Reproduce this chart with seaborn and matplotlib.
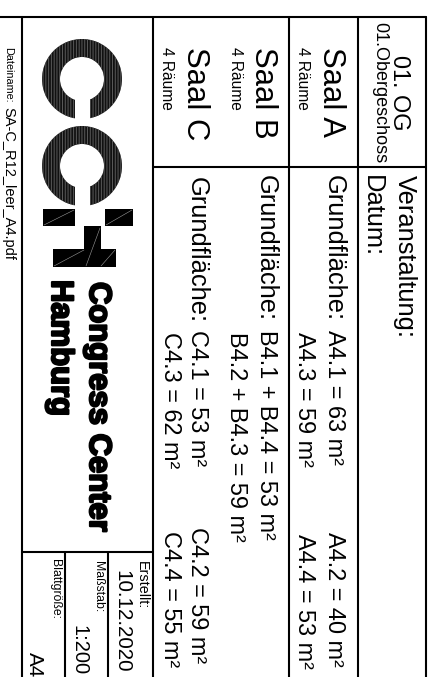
import numpy as np
import matplotlib
matplotlib.use('Agg')
import matplotlib.pyplot as plt
import matplotlib.patches as mpatches
import matplotlib.patheffects as pe
import seaborn as sns

# Data
floor_short = '01. OG'
floor_long = '01.Obergeschoss'
halls = ['Saal A', 'Saal B', 'Saal C']
room_counts = [4, 4, 4]
hall_a_rooms = ['A4.1', 'A4.2', 'A4.3', 'A4.4']
hall_a_areas = [63, 40, 59, 53]
hall_b_groups = ['B4.1 + B4.4', 'B4.2 + B4.3']
hall_b_areas = [53, 59]
hall_c_rooms = ['C4.1', 'C4.2', 'C4.3', 'C4.4']
hall_c_areas = [53, 59, 62, 55]
created = '10.12.2020'
scale = '1:200'
sheet = 'A4'
filename = 'SA-C_R12_leer_A4.pdf'

sns.set_style('white')
plt.rcParams['font.family'] = ['Liberation Sans', 'DejaVu Sans']
plt.rcParams['hatch.linewidth'] = 0.7

fig = plt.figure(figsize=(4.36, 6.77), dpi=100)
ax = fig.add_axes([0, 0, 1, 1])
ax.set_xlim(0, 436)
ax.set_ylim(677, 0)
ax.axis('off')

def rtext(x, y, s, px, ha='left', **kw):
    # text rotated clockwise, reading top to bottom
    ax.text(x, y, s, rotation=-90, rotation_mode='anchor', ha=ha, va='baseline',
            fontsize=px * 0.72, color='black', **kw)

# frame lines
lw = 1.5
ax.plot([0, 426], [17, 17], color='black', lw=lw)
for xv in [426, 358, 289, 153, 22]:
    ax.plot([xv, xv], [17, 677], color='black', lw=lw)
ax.plot([153, 426], [167, 167], color='black', lw=lw)
ax.plot([22, 153], [552, 552], color='black', lw=lw)
for xv in [108, 65]:
    ax.plot([xv, xv], [552, 677], color='black', lw=lw)

# header row
rtext(393, 93, floor_short, 23.5, ha='center')
rtext(375, 93, floor_long, 18, ha='center')
rtext(398, 175, 'Veranstaltung:', 25.5)
rtext(365, 175, 'Datum:', 25.5)

# halls
hall_x = [323, 255, 187]
rooms_x = [298, 231, 162]
for xb, xr, name, n in zip(hall_x, rooms_x, halls, room_counts):
    rtext(xb, 47, name, 31)
    rtext(xr, 47, f'{n} Räume', 15.5)

def area(label, val):
    return f'{label} = {val} m²'

gs = 25.5   # label size
vs = 23.5   # value size
# Saal A
rtext(327, 175, 'Grundfläche:', gs)
rtext(328, 330, area(hall_a_rooms[0], hall_a_areas[0]), vs)
rtext(328, 532, area(hall_a_rooms[1], hall_a_areas[1]), vs)
rtext(298, 332, area(hall_a_rooms[2], hall_a_areas[2]), vs)
rtext(298, 534, area(hall_a_rooms[3], hall_a_areas[3]), vs)

# Saal B
rtext(259, 175, 'Grundfläche:', gs)
rtext(260, 330, area(hall_b_groups[0], hall_b_areas[0]), vs)
rtext(230, 332, area(hall_b_groups[1], hall_b_areas[1]), vs)

# Saal C
rtext(190, 177, 'Grundfläche:', gs)
rtext(191, 330, area(hall_c_rooms[0], hall_c_areas[0]), vs)
rtext(191, 527, area(hall_c_rooms[1], hall_c_areas[1]), vs)
rtext(164, 332, area(hall_c_rooms[2], hall_c_areas[2]), vs)
rtext(164, 531, area(hall_c_rooms[3], hall_c_areas[3]), vs)

# bottom info boxes
rtext(138, 561, 'Erstellt:', 14.4)
rtext(116, 570, created, 20.6)
rtext(95, 561, 'Maßstab:', 12.2)
rtext(73, 625, scale, 20.2)
rtext(52, 559, 'Blattgröße:', 12.3)
rtext(29, 652, sheet, 20.6)

# file name column
rtext(5, 47, 'Dateiname:', 10.8)
rtext(4, 107, filename, 14.6)

# logo: two rings with slot
for cy in [79, 166]:
    ring = mpatches.Wedge((82, cy), 40, 0, 360, width=18, facecolor='#111111',
                          edgecolor='#5a5a5a', hatch='||||||', lw=0)
    ax.add_patch(ring)
    ax.add_patch(mpatches.Rectangle((75, cy), 15, 42, facecolor='white', lw=0))

# H shape
blocks = [(43, 209, 32, 17), (105, 209, 28, 17), (84, 226, 17, 24), (53, 249, 63, 18)]
for bx, by, bw, bh in blocks:
    ax.add_patch(mpatches.Rectangle((bx, by), bw, bh, facecolor='black', lw=0))
for seg in [((44, 225), (74, 210)), ((106, 225), (132, 210)),
            ((86, 266), (100, 228)), ((54, 266), (84, 250)), ((101, 266), (115, 250))]:
    ax.plot(*zip(*seg), color='#9a9a9a', lw=0.4)

heavy = [pe.withStroke(linewidth=1.6, foreground='black')]
rtext(90, 282, 'Congress Center', 31, fontweight='bold', path_effects=heavy)
rtext(52, 280, 'Hamburg', 31, fontweight='bold', path_effects=heavy)

fig.savefig('out.png', dpi=100)
